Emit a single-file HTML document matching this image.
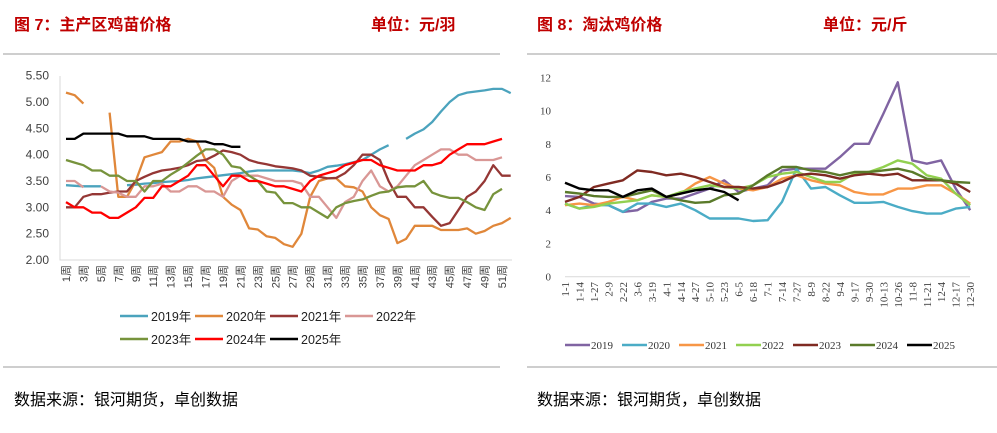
<!DOCTYPE html>
<html><head><meta charset="utf-8">
<style>
html,body{margin:0;padding:0;background:#fff;}
svg{display:block;}
.t{font-family:"Liberation Sans","Noto Sans CJK SC",sans-serif;}
</style></head>
<body>
<svg id="s" width="997" height="433" xmlns="http://www.w3.org/2000/svg">
<text class="t" x="14" y="30" font-size="16" font-weight="bold" fill="#c00000">图 7：主产区鸡苗价格</text>
<text class="t" x="371" y="30" font-size="16" font-weight="bold" fill="#c00000">单位：元/羽</text>
<text class="t" x="537" y="30" font-size="16" font-weight="bold" fill="#c00000">图 8：淘汰鸡价格</text>
<text class="t" x="823" y="30" font-size="16" font-weight="bold" fill="#c00000">单位：元/斤</text>
<line x1="3" y1="54" x2="500" y2="54" stroke="#bdbdbd" stroke-width="1.5"/>
<line x1="527" y1="54" x2="997" y2="54" stroke="#bdbdbd" stroke-width="1.5"/>
<line x1="3" y1="367" x2="500" y2="367" stroke="#bdbdbd" stroke-width="1.5"/>
<line x1="527" y1="367" x2="997" y2="367" stroke="#bdbdbd" stroke-width="1.5"/>
<text class="t" x="14" y="405" font-size="16" fill="#000">数据来源：银河期货，卓创数据</text>
<text class="t" x="537" y="405" font-size="16" fill="#000">数据来源：银河期货，卓创数据</text>
<g id="L"></g><g id="R"></g>
</svg>
<script>
const N=null;
const leftYears=["2019年","2020年","2021年","2022年","2023年","2024年","2025年"];
const leftColors=["#4ba3bd","#e0873a","#953735","#d99795","#77933c","#ff0000","#000000"];
const leftTicks=[2.0,2.5,3.0,3.5,4.0,4.5,5.0,5.5];
const l2019=[3.42,3.41,3.40,3.40,3.40,N,N,3.42,3.43,3.45,3.46,3.48,3.49,3.50,3.52,3.55,3.57,3.59,3.61,3.63,3.65,3.68,3.70,3.70,3.70,3.70,3.70,3.68,3.65,3.70,3.77,3.79,3.82,3.86,3.90,4.00,4.10,4.18,N,4.30,4.40,4.48,4.62,4.82,5.00,5.13,5.18,5.20,5.22,5.25,5.25,5.17];
const l2020=[5.18,5.13,4.97,N,N,4.80,3.20,3.20,3.50,3.95,4.00,4.05,4.25,4.25,4.30,4.25,3.90,3.75,3.20,3.05,2.95,2.60,2.58,2.45,2.42,2.30,2.25,2.50,3.20,3.50,3.55,3.55,3.40,3.38,3.30,3.00,2.85,2.78,2.32,2.40,2.65,2.65,2.65,2.57,2.57,2.57,2.60,2.50,2.55,2.65,2.70,2.80];
const l2021=[3.00,3.00,3.20,3.25,3.25,3.28,3.30,3.30,3.50,3.58,3.65,3.70,3.72,3.75,3.80,3.88,3.90,3.98,4.08,4.05,4.00,3.90,3.85,3.82,3.78,3.76,3.74,3.70,3.60,3.58,3.55,3.56,3.65,3.80,4.00,4.00,3.90,3.50,3.20,3.20,3.00,3.00,2.82,2.65,2.70,2.95,3.20,3.30,3.50,3.80,3.60,3.60];
const l2022=[3.50,3.50,3.38,N,3.40,3.30,3.28,3.20,3.20,3.40,3.40,3.45,3.30,3.30,3.40,3.40,3.30,3.30,3.20,3.50,3.60,3.60,3.60,3.55,3.50,3.50,3.50,3.45,3.20,3.20,3.00,2.80,3.10,3.20,3.50,3.70,3.40,3.30,3.40,3.60,3.80,3.90,4.00,4.10,4.10,4.00,4.00,3.90,3.90,3.90,3.95,N];
const l2023=[3.90,3.85,3.80,3.70,3.70,3.60,3.60,3.50,3.50,3.30,3.50,3.50,3.62,3.72,3.85,3.98,4.10,4.10,4.00,3.78,3.75,3.60,3.50,3.30,3.28,3.08,3.08,3.00,3.00,2.90,2.80,3.00,3.08,3.12,3.15,3.22,3.28,3.30,3.38,3.40,3.40,3.50,3.28,3.22,3.18,3.18,3.10,3.00,2.95,3.25,3.35,N];
const l2024=[3.10,3.00,3.00,2.90,2.90,2.80,2.80,2.90,3.00,3.18,3.18,3.40,3.40,3.50,3.60,3.80,3.80,3.60,3.40,3.60,3.60,3.50,3.50,3.45,3.40,3.40,3.35,3.30,3.50,3.60,3.65,3.70,3.80,3.85,3.90,3.90,3.80,3.75,3.70,3.70,3.70,3.80,3.80,3.85,4.00,4.10,4.20,4.20,4.20,4.25,4.30,N];
const l2025=[4.30,4.30,4.40,4.40,4.40,4.40,4.40,4.35,4.35,4.35,4.30,4.30,4.30,4.30,4.25,4.25,4.25,4.20,4.20,4.15,4.15];
const leftSeries=[l2019,l2020,l2021,l2022,l2023,l2024,l2025];

const rightYears=["2019","2020","2021","2022","2023","2024","2025"];
const rightColors=["#8064a2","#4bacc6","#f79646","#92d050","#7f2a22","#5a7a2a","#000000"];
const rightDates=["1-1","1-14","1-27","2-9","2-22","3-6","3-19","4-1","4-14","4-27","5-10","5-23","6-5","6-18","7-1","7-14","7-27","8-9","8-22","9-4","9-17","9-30","10-13","10-26","11-8","11-21","12-4","12-17","12-30"];
const rightTicks=[0,2,4,6,8,10,12];
const r2019=[4.85,4.8,4.4,4.3,3.9,4.0,4.5,4.7,4.7,5.0,5.3,5.8,5.1,5.3,5.5,6.4,6.5,6.5,6.5,7.2,8.0,8.0,9.8,11.7,7.0,6.8,7.0,5.3,4.0];
const r2020=[4.4,4.1,4.3,4.3,3.9,4.4,4.4,4.2,4.4,4.0,3.5,3.5,3.5,3.35,3.4,4.5,6.5,5.3,5.4,4.9,4.45,4.45,4.5,4.2,3.95,3.8,3.8,4.1,4.2];
const r2021=[4.3,4.4,4.3,4.5,4.8,4.6,4.9,4.8,5.0,5.6,6.0,5.6,5.3,5.2,5.4,5.9,6.1,5.8,5.6,5.5,5.1,4.95,4.95,5.3,5.3,5.5,5.5,5.0,4.4];
const r2022=[4.4,4.1,4.2,4.4,4.5,4.6,4.9,4.8,5.1,5.3,5.5,5.4,5.3,5.5,6.0,6.2,6.3,6.0,5.7,5.7,6.2,6.3,6.6,7.0,6.8,6.1,5.9,5.0,4.3];
const r2023=[4.5,4.8,5.4,5.6,5.8,6.4,6.3,6.1,6.2,6.0,5.7,5.4,5.4,5.3,5.4,5.7,6.1,6.2,6.1,5.9,6.1,6.2,6.1,6.2,5.8,5.8,5.8,5.6,5.1];
const r2024=[5.1,5.0,4.85,4.8,4.8,5.0,5.2,4.8,4.6,4.45,4.5,4.9,5.0,5.5,6.1,6.6,6.6,6.4,6.3,6.1,6.3,6.3,6.4,6.5,6.3,5.9,5.8,5.7,5.65];
const r2025=[5.65,5.3,5.2,5.2,4.8,5.2,5.3,4.8,5.0,5.2,5.3,5.1,4.6];
const rightSeries=[r2019,r2020,r2021,r2022,r2023,r2024,r2025];

const NS="http://www.w3.org/2000/svg";
function mk(tag,attrs,parent,txt){const e=document.createElementNS(NS,tag);for(const k in attrs)e.setAttribute(k,attrs[k]);if(txt!==undefined)e.textContent=txt;parent.appendChild(e);return e;}
function pathFor(vals,xf,yf){let d="",pen=false;vals.forEach((v,i)=>{if(v===null||v===undefined){pen=false;return;}d+=(pen?"L":"M")+xf(i).toFixed(1)+" "+yf(v).toFixed(1);pen=true;});return d;}

// LEFT
const L=document.getElementById('L');
const lx=i=>66+i*8.72, ly=v=>260-(v-2)/3.5*184.3;
leftTicks.forEach(t=>{const e=mk('text',{x:49,y:ly(t)+4,'font-size':12,'text-anchor':'end',fill:'#404040',class:'t'},L,t.toFixed(2));

});
const la=mk('path',{d:'M60 76V260H512',stroke:'#d9d9d9',fill:'none'},L);


for(let w=1;w<=51;w+=2){const x=lx(w-1);const e=mk('text',{transform:`translate(${x+4},265) rotate(-90)`,'font-size':11,'text-anchor':'end',fill:'#404040',class:'t'},L,w+"周");

}
leftSeries.forEach((s,k)=>{const p=mk('path',{d:pathFor(s,lx,ly),stroke:leftColors[k],'stroke-width':2.3,fill:'none','stroke-linejoin':'round'},L);

});
leftYears.forEach((y,k)=>{const x=120+(k%4)*75,yy=k<4?320:343;const g=mk('g',{},L);


mk('line',{x1:x,y1:yy-4,x2:x+28,y2:yy-4,stroke:leftColors[k],'stroke-width':2.5},g);
mk('text',{x:x+31,y:yy+1,'font-size':12.5,fill:'#222',class:'t'},g,y);});

// RIGHT
const R=document.getElementById('R');
const rx=i=>565+i*14.47, ry=v=>276.7-v/12*199.4;
rightTicks.forEach(t=>{const e=mk('text',{x:551,y:ry(t)+4,'font-size':11,'text-anchor':'end',fill:'#404040','font-family':'Liberation Serif,serif'},R,String(t));

});
const ra=mk('line',{x1:565,y1:276.7,x2:970,y2:276.7,stroke:'#d9d9d9'},R);


rightDates.forEach((d,i)=>{const e=mk('text',{transform:`translate(${rx(i)+4},282) rotate(-90)`,'font-size':11,'text-anchor':'end',fill:'#404040','font-family':'Liberation Serif,serif'},R,d);

});
rightSeries.forEach((s,k)=>{const p=mk('path',{d:pathFor(s,rx,ry),stroke:rightColors[k],'stroke-width':2.4,fill:'none','stroke-linejoin':'round'},R);

});
rightYears.forEach((y,k)=>{const x=565+k*57;const g=mk('g',{},R);


mk('line',{x1:x,y1:345,x2:x+25,y2:345,stroke:rightColors[k],'stroke-width':2.5},g);
mk('text',{x:x+26,y:349,'font-size':11,fill:'#333','font-family':'Liberation Serif,serif'},g,y);});
</script>
</body></html>
